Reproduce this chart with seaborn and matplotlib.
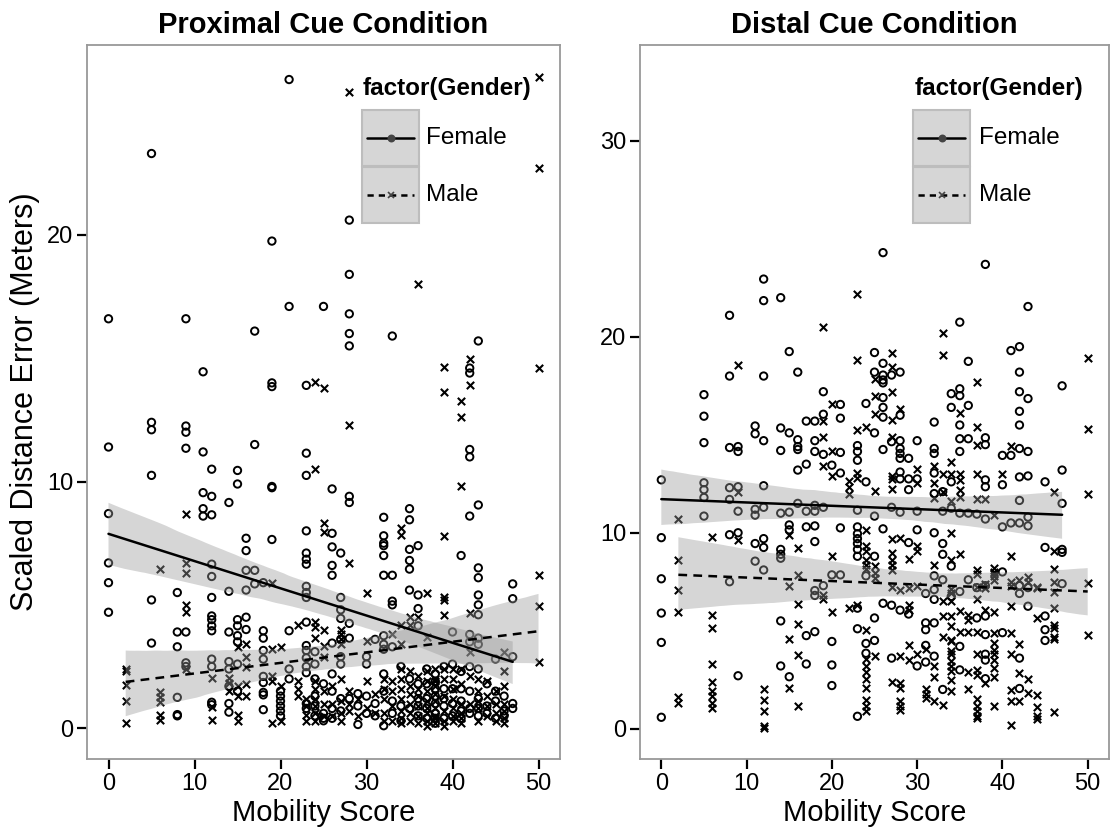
import matplotlib
matplotlib.use("Agg")
import matplotlib.pyplot as plt
import seaborn as sns
import pandas as pd
from matplotlib.patches import Rectangle
from matplotlib.lines import Line2D

# scores: mobility score -> distance errors
prox_female = {
    0: [16.6, 11.4, 8.7, 6.7, 5.9, 4.7],
    5: [23.3, 12.4, 12.1, 10.25, 5.2, 3.45],
    8: [5.5, 3.9, 3.3, 1.25, 0.55, 0.5],
    9: [16.6, 12.25, 12.0, 11.35, 3.9, 2.65, 2.5],
    11: [14.45, 11.2, 9.55, 8.9, 8.6],
    12: [10.5, 9.4, 8.65, 6.65, 6.15, 5.3, 4.55, 4.4, 4.15, 3.95, 2.8, 2.5, 1.05, 0.95],
    14: [9.15, 5.55, 3.9, 2.7, 2.4, 1.7, 1.0, 0.65],
    15: [10.45, 9.9, 4.4, 4.15, 3.75, 3.5, 2.6, 1.5],
    16: [7.7, 7.2, 6.4, 5.6, 4.5, 4.0],
    17: [16.1, 11.5, 6.4, 5.85],
    18: [5.9, 3.95, 3.65, 3.15, 2.8, 2.1, 1.85, 1.45, 1.35, 0.75],
    19: [19.75, 14.0, 13.85, 9.8, 9.75, 7.65],
    20: [1.5, 1.3, 1.1, 0.9, 0.7, 0.5],
    21: [26.3, 17.1, 3.95, 2.4, 2.0],
    23: [13.9, 11.15, 10.25, 8.0, 7.1, 6.85, 6.65, 5.75, 5.5, 5.3, 4.3, 3.35, 3.15,
         2.85, 2.5, 2.25, 1.0, 0.8],
    24: [3.1, 2.6, 2.0, 1.3, 0.9, 0.5],
    25: [17.1, 1.8, 0.6, 0.4, 0.3],
    26: [9.7, 7.9, 7.35, 6.6, 6.2, 3.45, 2.2, 1.5, 0.8, 0.4],
    27: [7.1, 5.3, 4.8, 4.45, 3.6, 2.9, 2.6, 1.2, 0.7],
    28: [20.6, 18.4, 16.8, 16.0, 15.5, 9.4, 9.15, 4.25, 3.65, 1.2],
    29: [1.4, 0.9, 0.15],
    30: [2.9, 2.6, 1.3, 0.6],
    31: [3.6, 1.0, 0.5],
    32: [8.55, 7.8, 7.5, 7.4, 7.0, 6.2, 3.75, 3.4, 3.2, 2.2, 1.5, 0.1],
    33: [15.9, 6.2, 5.15, 5.0, 3.3, 1.1, 0.6],
    34: [2.5, 0.9, 0.3],
    35: [8.9, 8.45, 7.25, 6.8, 6.45, 5.6, 2.0, 0.8],
    36: [7.4, 5.4, 4.85, 4.15, 1.8, 1.2, 0.9, 0.5],
    37: [2.4, 1.8, 1.2, 0.8, 0.4],
    38: [2.2, 1.9, 1.6, 1.3, 1.0, 0.6, 0.4, 0.2],
    39: [2.5, 1.6, 1.2, 0.9, 0.4],
    40: [3.9, 2.6, 1.6, 1.0, 0.5],
    41: [7.0, 2.3, 1.6, 1.1, 0.7, 0.4],
    42: [14.6, 14.4, 11.3, 11.0, 8.6, 3.8, 3.5, 2.5, 1.5, 0.8, 0.6],
    43: [15.7, 9.05, 6.5, 6.1, 5.4, 5.0, 4.6, 3.65, 3.4, 2.4, 1.2, 0.8, 0.5],
    44: [1.8, 0.9, 0.6],
    45: [2.8, 1.5, 1.1, 0.4],
    46: [1.3, 0.7, 0.5],
    47: [5.85, 5.25, 2.9, 1.0, 0.8],
}

prox_male = {
    2: [2.4, 2.3, 1.75, 1.1, 0.2],
    6: [6.45, 1.45, 1.25, 1.05, 0.55, 0.35],
    9: [8.7, 6.7, 6.3, 5.0, 4.7, 2.4],
    12: [2.05, 0.85, 0.35],
    14: [2.05, 1.85, 1.5],
    15: [3.3, 1.7, 1.3, 0.55, 0.3],
    16: [3.4, 2.9, 2.5, 1.8, 1.3],
    19: [5.9, 3.2, 2.1, 1.9, 0.2],
    20: [3.3, 1.7, 0.3],
    22: [4.2, 1.9, 1.6, 1.3],
    23: [1.2, 0.9, 0.55, 0.3],
    24: [14.05, 10.5, 4.3, 4.1, 3.65, 1.9, 1.6, 1.2, 0.9, 0.6, 0.3],
    25: [13.8, 8.3, 7.95, 4.0, 3.35, 2.9, 1.5, 1.0, 0.5],
    26: [1.7, 1.0, 0.5],
    27: [4.0, 3.8, 3.6, 3.4, 2.0, 1.1, 0.6, 0.3],
    28: [25.8, 12.3, 6.7, 1.5, 1.0, 0.7],
    29: [1.2, 0.5],
    30: [5.5, 3.55, 1.9, 0.8],
    31: [1.4, 0.6],
    32: [2.0, 1.6, 1.2, 0.6, 0.3],
    33: [3.8, 1.9, 1.5, 0.9, 0.3],
    34: [8.1, 7.85, 4.2, 3.4, 2.4, 2.0, 1.6, 1.2, 0.7, 0.4, 0.2],
    35: [4.5, 4.2, 2.3, 1.7, 1.4, 1.0, 0.6, 0.3],
    36: [18.0, 4.5, 2.1, 1.6, 1.3, 0.9, 0.5, 0.2],
    37: [5.5, 3.7, 2.3, 1.9, 1.5, 1.1, 0.8, 0.6, 0.3, 0.1],
    38: [2.4, 2.0, 1.9, 1.7, 1.4, 1.1, 0.8, 0.5, 0.4, 0.2],
    39: [14.65, 13.65, 7.8, 5.3, 5.2, 4.6, 2.4, 2.0, 1.3, 0.7, 0.3, 0.1],
    40: [2.4, 2.0, 1.6, 1.2, 0.8, 0.5, 0.3],
    41: [13.25, 12.6, 9.8, 2.4, 1.8, 1.0, 0.6, 0.4, 0.2],
    42: [14.95, 13.9, 4.65, 3.1, 2.1, 1.0],
    43: [2.0, 1.5, 1.1, 0.8, 0.3],
    44: [1.9, 1.3, 0.9, 0.5],
    45: [1.5, 1.0, 0.6, 0.3],
    46: [3.1, 2.3, 1.7, 1.0, 0.7, 0.4, 0.2],
    50: [26.4, 22.7, 14.6, 6.2, 4.95, 2.7],
}

dist_female = {
    0: [12.7, 9.75, 7.65, 5.9, 4.4, 0.58],
    5: [17.05, 15.95, 14.6, 12.55, 12.2, 11.8, 10.85],
    8: [21.1, 18.0, 14.35, 12.3, 11.7, 9.9, 7.5],
    9: [14.4, 14.15, 12.35, 11.1, 10.0, 2.7],
    11: [15.45, 15.05, 11.2, 10.9, 9.45, 8.55],
    12: [22.95, 21.85, 18.0, 14.7, 12.4, 11.3, 9.7, 9.25, 8.1],
    14: [22.0, 15.35, 14.2, 11.0, 9.15, 8.9, 8.7, 5.5, 3.2],
    15: [19.25, 15.1, 11.05, 10.4, 10.15, 2.65],
    16: [18.2, 14.75, 14.4, 14.25, 13.2, 11.5],
    17: [15.7, 13.5, 11.1, 10.3, 4.75, 3.3],
    18: [15.7, 14.7, 14.15, 11.4, 11.1, 10.35, 9.55, 7.05, 6.8, 4.95],
    19: [17.2, 16.05, 14.0, 11.3, 7.3],
    20: [13.45, 7.85, 4.45, 3.25, 2.2],
    21: [16.55, 15.85, 14.1, 13.05, 10.25, 7.85],
    23: [14.45, 14.15, 13.7, 11.15, 10.3, 9.95, 9.7, 9.45, 9.15, 8.8, 6.15, 5.1, 0.63],
    24: [16.6, 12.6, 7.8, 4.35, 3.85],
    25: [19.2, 18.2, 15.1, 10.85, 8.8, 5.65, 4.5],
    26: [24.3, 18.65, 18.05, 17.8, 17.65, 16.9, 16.4, 15.9, 14.25, 10.2, 6.4],
    27: [18.05, 14.65, 11.3, 6.3, 3.6],
    28: [18.2, 16.0, 14.7, 14.3, 14.05, 13.8, 13.1, 12.75, 11.05, 6.05],
    29: [13.8, 12.75, 12.2, 9.5, 5.85],
    30: [14.7, 12.75, 11.1, 10.15, 3.2],
    31: [6.9, 5.4, 5.05, 4.25, 3.4],
    32: [15.65, 14.3, 14.05, 13.05, 12.0, 10.0, 7.8, 7.1, 6.6, 5.4, 3.7],
    33: [12.1, 11.1, 9.45, 8.9, 7.6, 2.0],
    34: [17.1, 16.4, 12.6, 11.25, 8.3, 6.75],
    35: [20.75, 17.35, 17.0, 15.5, 14.8, 14.15, 11.0, 7.0, 4.2, 3.0],
    36: [18.75, 16.5, 14.8, 11.0, 7.6],
    37: [10.95, 7.2, 5.65],
    38: [23.7, 14.85, 14.5, 12.7, 12.35, 10.7, 7.3, 5.75, 4.8, 3.8, 3.5, 2.55],
    40: [13.95, 12.45, 10.3, 8.0, 4.9],
    41: [19.3, 13.95, 10.5],
    42: [19.5, 18.2, 17.2, 16.2, 15.5, 14.3, 12.85, 11.65, 10.5, 7.3, 6.9, 3.6, 2.05],
    43: [21.55, 16.85, 14.15, 12.9, 10.8, 10.35, 7.2, 6.25],
    45: [12.6, 9.25, 5.75, 5.05, 4.5],
    47: [17.5, 13.2, 11.5, 9.15, 9.0, 7.4],
}

dist_male = {
    2: [10.7, 8.6, 7.1, 5.95, 1.6, 1.3],
    6: [9.8, 5.8, 5.15, 3.3, 2.4, 1.9, 1.65, 1.3, 1.05],
    9: [18.55, 12.1, 9.65],
    12: [2.0, 1.45, 0.9, 0.15, 0.05],
    15: [9.9, 7.3, 4.6, 2.05],
    16: [9.2, 7.85, 6.35, 5.35, 3.75, 1.15],
    19: [20.5, 15.7, 14.9, 13.4, 6.8, 6.6],
    20: [16.55, 14.15, 12.9, 8.8, 5.95],
    22: [12.65, 12.35, 12.0, 6.15],
    23: [22.2, 18.8, 15.25, 13.05, 12.8, 6.3],
    24: [15.4, 10.15, 9.3, 9.05, 8.6, 8.35, 8.15, 5.05, 3.55, 3.2, 2.9, 2.55, 2.1,
         1.45, 1.15, 0.9],
    25: [17.85, 17.0, 16.05, 12.15, 8.3, 7.95, 7.7, 3.7],
    27: [19.2, 18.45, 17.2, 15.75, 14.9, 12.9, 12.75, 12.25, 9.7, 8.95, 8.6, 8.35,
         8.1, 7.25, 2.4],
    28: [16.3, 9.75, 7.1, 3.7, 2.35, 2.05, 1.4, 1.15, 0.95],
    29: [8.65, 7.2, 6.3, 6.05, 4.25, 3.5],
    30: [13.25, 12.55, 9.3, 9.05, 7.3, 3.8],
    31: [4.05, 2.0, 1.75, 1.55],
    32: [13.4, 12.55, 11.75, 8.35, 3.2, 2.65, 1.4],
    33: [20.2, 19.05, 13.0, 12.1, 6.5, 5.75, 4.7, 1.2],
    34: [13.6, 13.0, 11.6, 10.0, 8.6, 7.15, 6.9, 6.5, 5.75, 5.25, 4.55, 4.45, 3.95,
         3.8, 3.45, 3.2, 2.95, 2.5, 1.9],
    35: [16.1, 13.0, 12.7, 12.2, 11.8, 8.9, 6.0, 4.95],
    36: [5.8, 5.55, 4.95, 2.9, 2.0],
    37: [17.7, 15.4, 14.5, 13.0, 11.7, 8.1, 7.9, 7.25, 6.6, 4.95, 3.8, 3.0, 2.75,
         1.5, 1.15, 0.9, 0.65, 0.55],
    38: [11.7, 7.4, 7.2, 6.05, 2.35],
    39: [10.9, 8.2, 8.0, 7.95, 7.8, 7.6, 5.95, 4.9, 4.35, 4.0, 3.8, 3.5, 3.1, 2.65,
         1.15],
    40: [13.0],
    41: [14.45, 8.8, 7.5, 7.3, 6.25, 4.9, 3.8, 1.95, 1.4, 0.2],
    42: [7.6, 4.3, 2.85, 1.4],
    43: [7.75, 7.5, 2.55, 1.8],
    44: [7.25, 7.2, 5.65, 1.7, 1.1, 0.65, 0.5],
    46: [12.1, 9.05, 8.15, 7.5, 6.95, 6.15, 5.3, 5.15, 4.7, 4.6, 0.85],
    50: [18.9, 15.3, 12.0, 7.45, 4.8],
}

x_ticks = [0, 10, 20, 30, 40, 50]
prox_y_ticks = [0, 10, 20]
dist_y_ticks = [0, 10, 20, 30]
genders = ["Female", "Male"]


def to_frame(d):
    rows = [(k, v) for k, vals in d.items() for v in vals]
    return pd.DataFrame(rows, columns=["Mobility", "Error"])


W, H = 1110, 835
fx = lambda px: px / W
fy = lambda py: 1 - py / H

sns.set_theme(style="white")
plt.rcParams["font.family"] = ["Liberation Sans", "DejaVu Sans"]
plt.rcParams["text.color"] = "black"
plt.rcParams["axes.labelcolor"] = "black"
plt.rcParams["xtick.color"] = "black"
plt.rcParams["ytick.color"] = "black"

fig = plt.figure(figsize=(11.1, 8.35), dpi=100)
ax1 = fig.add_axes([fx(87), fy(759), (560 - 87) / W, (759 - 45) / H])
ax2 = fig.add_axes([fx(640), fy(759), (1109 - 640) / W, (759 - 45) / H])


def draw_panel(ax, fem, male, title, ylim, yticks):
    f = to_frame(fem)
    m = to_frame(male)
    sns.scatterplot(data=f, x="Mobility", y="Error", marker="o", s=28,
                    color="black", linewidth=1.4, ax=ax)
    ax.collections[-1].set_facecolor("none")
    ax.collections[-1].set_edgecolor("black")
    sns.scatterplot(data=m, x="Mobility", y="Error", marker="x", s=28,
                    color="black", linewidth=1.5, ax=ax)
    for df, ls in [(f, "-"), (m, (0, (3.5, 2.5)))]:
        sns.regplot(data=df, x="Mobility", y="Error", scatter=False, ax=ax,
                    color="black", seed=3, line_kws={"lw": 1.8, "ls": ls})
        band = ax.collections[-1]
        band.set_alpha(None)
        band.set_facecolor((0.6, 0.6, 0.6, 0.4))
        band.set_edgecolor("none")
    ax.set_xlim(-2.5, 52.5)
    ax.set_ylim(*ylim)
    ax.set_xticks(x_ticks)
    ax.set_yticks(yticks)
    ax.set_title(title, fontsize=21, fontweight="bold", pad=9)
    ax.set_xlabel("Mobility Score", fontsize=21, labelpad=3)
    ax.set_ylabel("")
    ax.tick_params(direction="out", length=7, width=1.6, color="black",
                   labelcolor="black", labelsize=17, bottom=True, left=True, pad=3)
    for sp in ax.spines.values():
        sp.set_visible(True)
        sp.set_color("#999999")
        sp.set_linewidth(1.3)


def draw_legend(box_left, title_left, text_left):
    fig.text(fx(title_left), fy(89), "factor(Gender)", fontsize=17.5,
             fontweight="bold", va="center", ha="left")
    for i, (lab, top) in enumerate(zip(genders, [110, 167])):
        fig.add_artist(Rectangle((fx(box_left), fy(top + 56)), 57 / W, 56 / H,
                                 transform=fig.transFigure, facecolor="#d6d6d6",
                                 edgecolor="#bdbdbd", lw=1.5))
        yc = fy(top + 28)
        ls = "-" if i == 0 else (0, (2.5, 2))
        fig.add_artist(Line2D([fx(box_left + 5), fx(box_left + 52)], [yc, yc],
                              transform=fig.transFigure, color="black", lw=1.8, ls=ls))
        mk = "o" if i == 0 else "x"
        fig.add_artist(Line2D([fx(box_left + 28.5)], [yc], transform=fig.transFigure,
                              marker=mk, ms=4.5, mew=1.2, color="#444444", ls="none"))
        fig.text(fx(text_left), yc, lab, fontsize=17.5, va="center", ha="left")


draw_panel(ax1, prox_female, prox_male, "Proximal Cue Condition",
           (-1.25, 27.7), prox_y_ticks)
draw_panel(ax2, dist_female, dist_male, "Distal Cue Condition",
           (-1.55, 34.9), dist_y_ticks)
ax1.set_ylabel("Scaled Distance Error (Meters)", fontsize=22, labelpad=5)

draw_legend(362, 363, 426)
draw_legend(913, 915, 979)

fig.savefig("out.png", dpi=100)
